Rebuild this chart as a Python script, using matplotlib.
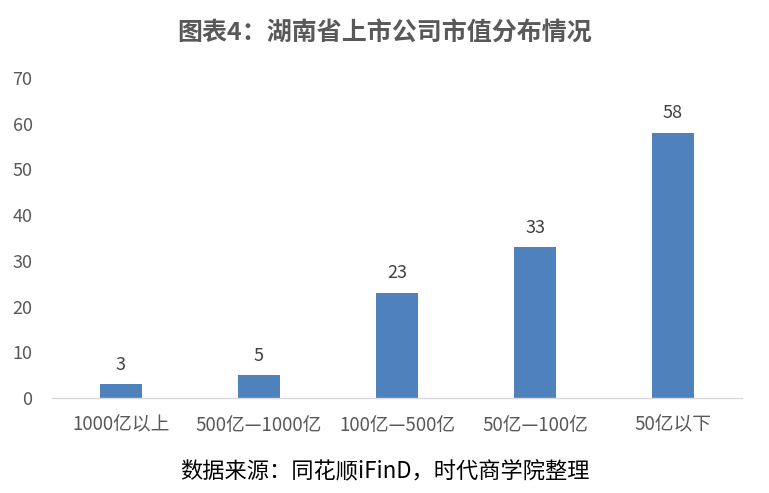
import matplotlib
matplotlib.use("Agg")
import matplotlib.pyplot as plt

plt.rcParams['font.family'] = ['Noto Sans CJK SC', 'DejaVu Sans']

categories = ["1000亿以上", "500亿—1000亿", "100亿—500亿", "50亿—100亿", "50亿以下"]
values = [3, 5, 23, 33, 58]
yticks = [0, 10, 20, 30, 40, 50, 60, 70]
title = "图表4：湖南省上市公司市值分布情况"
source = "数据来源：同花顺iFinD，时代商学院整理"

fig = plt.figure(figsize=(7.69, 4.93), dpi=100)
ax = fig.add_axes([0.0676, 0.1927, 0.8974, 0.6491])
x = range(len(categories))
bars = ax.bar(x, values, width=0.31, color="#4F81BD", zorder=2)
for xi, v in zip(x, values):
    ax.text(xi, v + 2.3, str(v), ha="center", va="bottom", fontsize=13, color="#404040")

ax.set_xlim(-0.5, len(categories) - 0.5)
ax.set_ylim(0, 70)
ax.set_yticks(yticks)
ax.set_yticklabels([str(t) for t in yticks], fontsize=13, color="#595959")
ax.set_xticks(list(x))
ax.set_xticklabels(categories, fontsize=13.5, color="#595959")
ax.tick_params(axis='both', length=0)
ax.tick_params(axis='y', pad=14)
ax.tick_params(axis='x', pad=12)
for s in ["top", "right", "left"]:
    ax.spines[s].set_visible(False)
ax.spines["bottom"].set_color("#D9D9D9")
ax.spines["bottom"].set_linewidth(1)

fig.text(0.5, 0.933, title, ha="center", va="center", fontsize=18, fontweight="bold", color="#595959")
fig.text(0.5, 0.043, source, ha="center", va="center", fontsize=16, color="#000000")

fig.savefig("out.png", dpi=100)
